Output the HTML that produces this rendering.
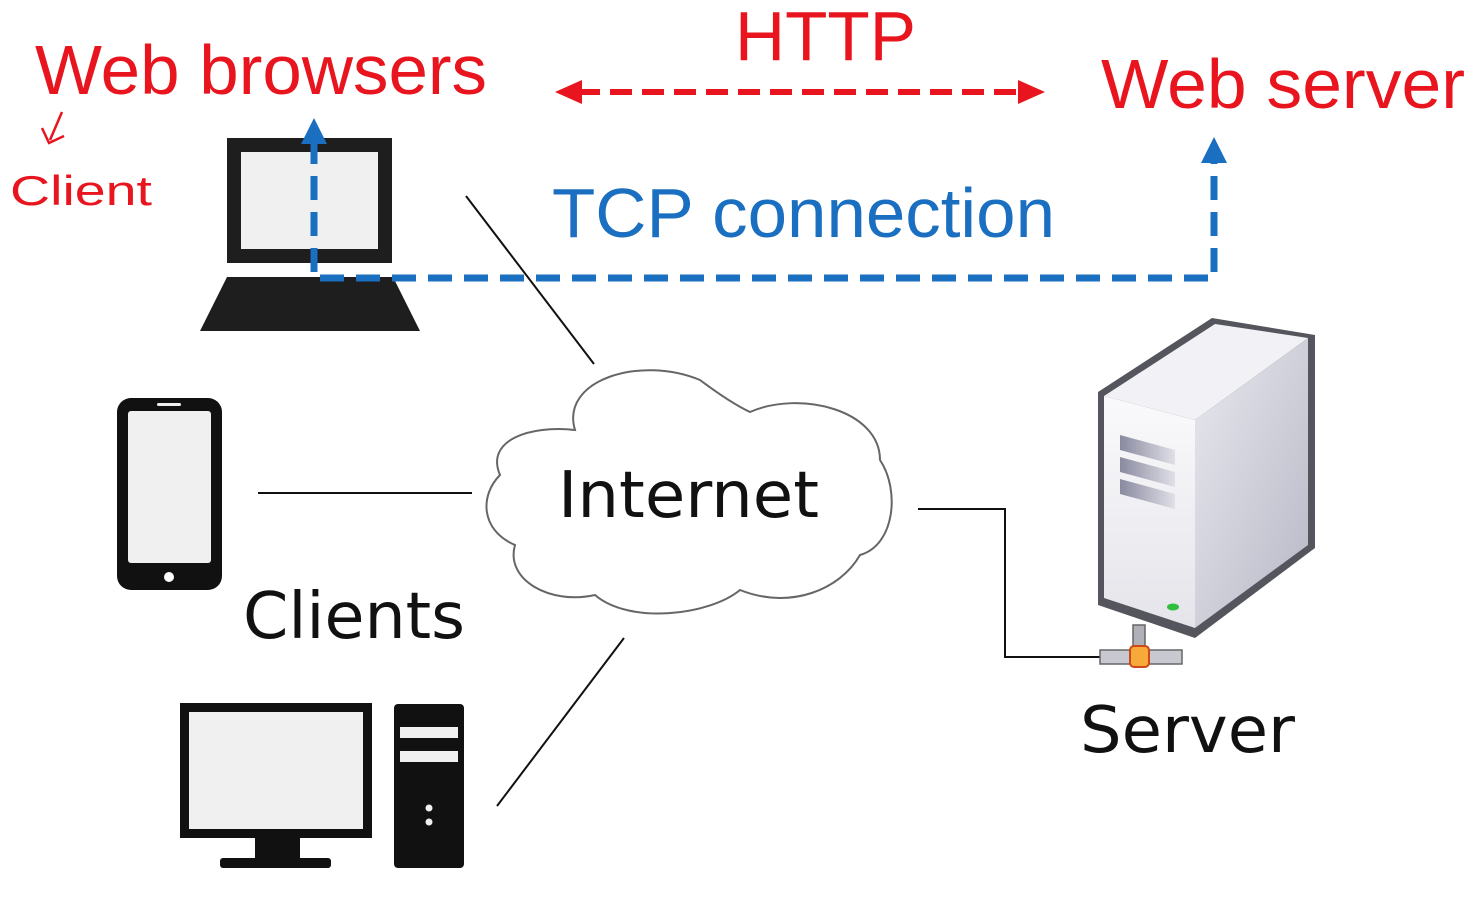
<!DOCTYPE html>
<html><head><meta charset="utf-8"><style>html,body{margin:0;padding:0;background:#fff}svg{display:block}</style></head>
<body>
<svg width="1480" height="911" viewBox="0 0 1480 911" xmlns="http://www.w3.org/2000/svg">
<defs>
<linearGradient id="fr" x1="0" y1="0" x2="0" y2="1"><stop offset="0" stop-color="#fafafc"/><stop offset="1" stop-color="#e4e4ea"/></linearGradient>
<linearGradient id="sd" x1="0" y1="0" x2="1" y2="1"><stop offset="0" stop-color="#e8e8ef"/><stop offset="1" stop-color="#b8b8c6"/></linearGradient>
<linearGradient id="vt" x1="0" y1="0" x2="1" y2="0"><stop offset="0" stop-color="#8a8aa0"/><stop offset="1" stop-color="#e0e0e8"/></linearGradient>
</defs>
<g stroke="#111" stroke-width="2" fill="none">
<line x1="466" y1="196" x2="594" y2="364"/>
<line x1="258" y1="493" x2="472" y2="493"/>
<line x1="624" y1="638" x2="497" y2="806"/>
<polyline points="918,509 1005,509 1005,657 1102,657"/>
</g>
<rect x="227" y="138" width="165" height="125" fill="#1e1e1e"/>
<rect x="241" y="152" width="137" height="97" fill="#f0f0f0"/>
<polygon points="227,277 393,277 420,331 200,331" fill="#1e1e1e"/>
<rect x="117" y="398" width="105" height="192" rx="14" fill="#111"/>
<rect x="128" y="411" width="83" height="152" rx="3" fill="#f0f0f0"/>
<circle cx="169" cy="577" r="5" fill="#fff"/>
<rect x="157" y="403" width="24" height="3" rx="1.5" fill="#f0f0f0"/>
<rect x="180" y="703" width="192" height="135" fill="#111"/>
<rect x="189" y="712" width="174" height="117" fill="#f0f0f0"/>
<rect x="255" y="838" width="45" height="22" fill="#111"/>
<rect x="220" y="858" width="111" height="10" rx="3" fill="#111"/>
<rect x="394" y="704" width="70" height="164" rx="4" fill="#111"/>
<rect x="400" y="727" width="58" height="11" fill="#f0f0f0"/>
<rect x="400" y="751" width="58" height="11" fill="#f0f0f0"/>
<circle cx="429" cy="808" r="3.5" fill="#f0f0f0"/>
<circle cx="429" cy="822" r="3.5" fill="#f0f0f0"/>
<path d="M575,430 C560,380 640,355 700,380 C720,395 735,405 750,412 C800,390 880,410 880,460 C900,490 895,545 860,555 C840,590 790,610 740,590 C710,615 630,625 595,595 C550,605 505,580 515,545 C480,530 480,495 500,475 C485,440 530,425 575,430 Z" fill="#fff" stroke="#666" stroke-width="2"/>
<polygon points="1098,392 1212,318 1315,335 1315,548 1195,638 1098,605" fill="#55555d"/>
<polygon points="1104,396 1215,324 1308,338 1195,420" fill="#f2f2f6"/>
<polygon points="1195,420 1308,338 1308,545 1195,628" fill="url(#sd)"/>
<polygon points="1104,396 1195,420 1195,628 1104,598" fill="url(#fr)"/>
<polygon points="1120,435 1175,450 1175,465 1120,450" fill="url(#vt)"/>
<polygon points="1120,457 1175,472 1175,487 1120,472" fill="url(#vt)"/>
<polygon points="1120,479 1175,494 1175,509 1120,494" fill="url(#vt)"/>
<ellipse cx="1173" cy="607" rx="6" ry="3.5" fill="#2fbf3f"/>
<rect x="1133" y="625" width="12" height="30" fill="#b0b0b8" stroke="#666" stroke-width="1.5"/>
<rect x="1100" y="650" width="82" height="14" fill="#c8c8d0" stroke="#666" stroke-width="1.5"/>
<rect x="1130" y="646" width="19" height="21" rx="4" fill="#f7a93a" stroke="#d0471a" stroke-width="2"/>
<g stroke="#1a6fc0" stroke-width="7" fill="none" stroke-dasharray="24,12">
<polyline points="314,140 314,278 1214,278 1214,158"/>
</g>
<polygon points="301,144 327,144 314,118" fill="#1a6fc0"/>
<polygon points="1201,163 1227,163 1214,137" fill="#1a6fc0"/>
<line x1="578" y1="92" x2="1022" y2="92" stroke="#e8141e" stroke-width="6" stroke-dasharray="22,10"/>
<polygon points="555,92 582,80 582,104" fill="#e8141e"/>
<polygon points="1045,92 1018,80 1018,104" fill="#e8141e"/>
<g font-family="Liberation Sans, sans-serif" fill="#e8141e">
<text x="35" y="94" font-size="70" textLength="452" lengthAdjust="spacingAndGlyphs">Web browsers</text>
<text x="735" y="60" font-size="70" textLength="181" lengthAdjust="spacingAndGlyphs">HTTP</text>
<text x="1101" y="108" font-size="70" textLength="364" lengthAdjust="spacingAndGlyphs">Web server</text>
<text x="10" y="205" font-size="42" textLength="142" lengthAdjust="spacingAndGlyphs" font-weight="300">Client</text>
</g>
<path d="M62,112 L50,140 M42,128 L49,143 L64,136" stroke="#e8141e" stroke-width="2.5" fill="none"/>
<text x="552" y="237" font-family="Liberation Sans, sans-serif" font-size="70" fill="#1a6fc0" textLength="503" lengthAdjust="spacingAndGlyphs">TCP connection</text>
<g font-family="DejaVu Sans, sans-serif" fill="#111">
<text x="558" y="517" font-size="64" textLength="261" lengthAdjust="spacingAndGlyphs">Internet</text>
<text x="243" y="638" font-size="64" textLength="222" lengthAdjust="spacingAndGlyphs">Clients</text>
<text x="1080" y="752" font-size="64" textLength="215" lengthAdjust="spacingAndGlyphs">Server</text>
</g>
</svg>
</body></html>
